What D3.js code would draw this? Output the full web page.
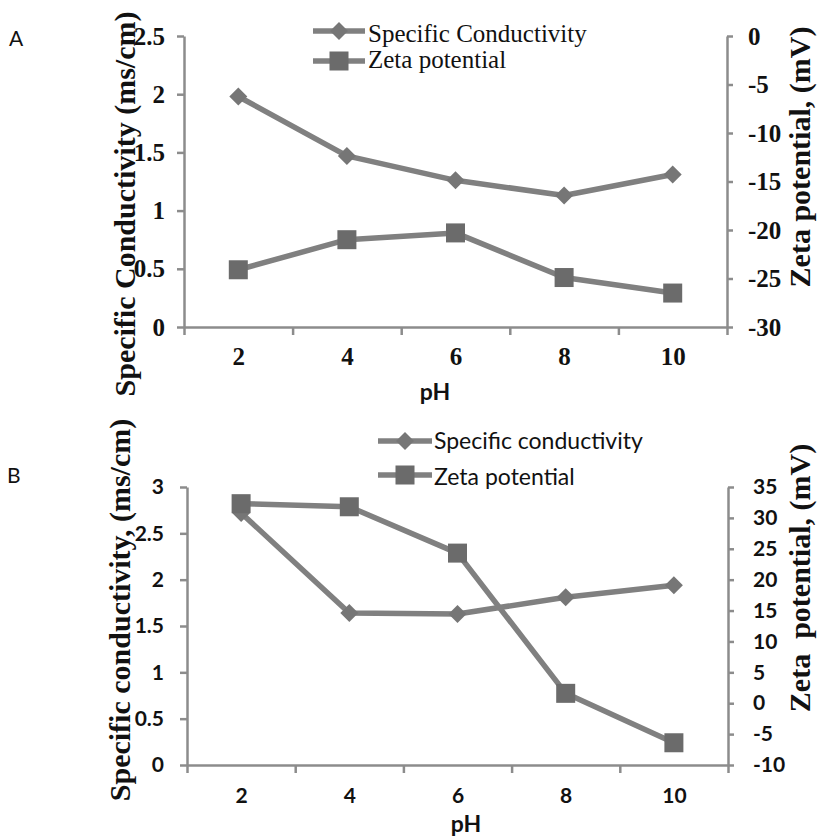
<!DOCTYPE html>
<html>
<head>
<meta charset="utf-8">
<script src="https://cdn.jsdelivr.net/npm/d3@7/dist/d3.min.js"></script>
<style>
  body { margin: 0; background: #fff; }
  svg { display: block; }
</style>
</head>
<body>
<div id="chart"></div>
<script>
// Data
var pH = [2, 4, 6, 8, 10];
var xBounds = [1, 3, 5, 7, 9, 11];

var condA = [1.98, 1.47, 1.26, 1.13, 1.31];
var zetaA = [-24.1, -21.0, -20.3, -24.9, -26.5];
var condTicksA = [0, 0.5, 1, 1.5, 2, 2.5];
var zetaTicksA = [0, -5, -10, -15, -20, -25, -30];

var condB = [2.72, 1.64, 1.63, 1.81, 1.94];
var zetaB = [32.3, 31.8, 24.3, 1.6, -6.4];
var condTicksB = [0, 0.5, 1, 1.5, 2, 2.5, 3];
var zetaTicksB = [-10, -5, 0, 5, 10, 15, 20, 25, 30, 35];

var SERIF = "Liberation Serif";
var SANS = "Lato";

var LINE = "#808080";
var AXIS = "#8c8c8c";
var DIAMOND = "#767676";
var SQUARE = "#6b6b6b";

var svg = d3.select("#chart")
  .append("svg")
  .attr("width", 817)
  .attr("height", 836);

var drawDiamond = function(g, x, y) {
  var s = 9;
  g.append("path")
    .attr("d", `M${x},${y - s}L${x + s},${y}L${x},${y + s}L${x - s},${y}Z`)
    .attr("fill", DIAMOND);
};

var drawSquare = function(g, x, y) {
  var s = 19;
  g.append("rect")
    .attr("x", x - s / 2)
    .attr("y", y - s / 2)
    .attr("width", s)
    .attr("height", s)
    .attr("fill", SQUARE);
};

var renderPanel = function(config) {
  var g = svg.append("g");

  var xScale = d3.scaleLinear().domain([1, 11]).range([config.left, config.right]);
  var yLeft = d3.scaleLinear().domain(config.leftDomain).range([config.bottom, config.top]);
  var yRight = d3.scaleLinear().domain(config.rightDomain).range([config.bottom, config.top]);

  var tickFont = config.tickFont;

  // x axis: ticks on category boundaries, labels on categories
  var xAxis = g.append("g")
    .attr("transform", `translate(0,${config.bottom})`)
    .call(d3.axisBottom(xScale).tickValues(xBounds).tickSize(8).tickSizeOuter(0).tickFormat(""));

  var xLabels = g.append("g")
    .attr("transform", `translate(0,${config.bottom})`)
    .call(d3.axisBottom(xScale).tickValues(pH).tickSize(0).tickFormat(d => d));
  xLabels.select(".domain").remove();
  xLabels.selectAll("text")
    .attr("y", config.xLabelY)
    .attr("dy", 0);

  var leftAxis = g.append("g")
    .attr("transform", `translate(${config.left},0)`)
    .call(d3.axisLeft(yLeft).tickValues(config.leftTicks).tickSize(7).tickSizeOuter(0)
      .tickPadding(config.leftPad).tickFormat(d => d));

  var rightAxis = g.append("g")
    .attr("transform", `translate(${config.right},0)`)
    .call(d3.axisRight(yRight).tickValues(config.rightTicks).tickSize(6).tickSizeOuter(0)
      .tickPadding(config.rightPad).tickFormat(d => d < 0 ? "-" + Math.abs(d) : d));

  [xAxis, leftAxis, rightAxis].forEach(function(a) {
    a.selectAll(".domain").attr("stroke", AXIS).attr("stroke-width", 2.5);
    a.selectAll(".tick line").attr("stroke", AXIS).attr("stroke-width", 2.5);
  });
  [xLabels, leftAxis, rightAxis].forEach(function(a) {
    a.attr("font-family", tickFont.family).attr("font-size", tickFont.size);
    a.selectAll("text")
      .attr("font-family", tickFont.family)
      .attr("font-size", tickFont.size)
      .attr("font-weight", "bold")
      .attr("fill", "#111");
  });

  // series
  var line = function(scale, vals) {
    return d3.line()
      .x((d, i) => xScale(pH[i]))
      .y(d => scale(d))(vals);
  };

  g.append("path")
    .attr("d", line(yLeft, config.cond))
    .attr("fill", "none")
    .attr("stroke", LINE)
    .attr("stroke-width", 5.5)
    .attr("stroke-linejoin", "round");
  config.cond.forEach(function(v, i) {
    drawDiamond(g, xScale(pH[i]), yLeft(v));
  });

  g.append("path")
    .attr("d", line(yRight, config.zeta))
    .attr("fill", "none")
    .attr("stroke", LINE)
    .attr("stroke-width", 5.5)
    .attr("stroke-linejoin", "round");
  config.zeta.forEach(function(v, i) {
    drawSquare(g, xScale(pH[i]), yRight(v));
  });

  // axis titles
  config.titles.forEach(function(t) {
    g.append("text")
      .attr("transform", `translate(${t.x},${t.y}) rotate(-90)`)
      .attr("text-anchor", "middle")
      .attr("font-family", SERIF)
      .attr("font-size", 30)
      .attr("font-weight", "bold")
      .attr("fill", "#111")
      .attr("xml:space", "preserve")
      .text(t.text);
  });

  g.append("text")
    .attr("x", config.pHx)
    .attr("y", config.pHy)
    .attr("text-anchor", "middle")
    .attr("font-family", SANS)
    .attr("font-size", config.pHsize)
    .attr("font-weight", "bold")
    .attr("fill", "#111")
    .text("pH");

  g.append("text")
    .attr("x", config.letter.x)
    .attr("y", config.letter.y)
    .attr("font-family", SANS)
    .attr("font-size", 21)
    .attr("fill", "#111")
    .text(config.letter.text);

  // legend
  var lg = config.legend;
  lg.items.forEach(function(item, i) {
    var ly = lg.lineY[i];
    g.append("line")
      .attr("x1", lg.x1).attr("x2", lg.x2)
      .attr("y1", ly).attr("y2", ly)
      .attr("stroke", LINE)
      .attr("stroke-width", 5.5);
    if (i == 0) drawDiamond(g, (lg.x1 + lg.x2) / 2, ly);
    else drawSquare(g, (lg.x1 + lg.x2) / 2, ly);
    g.append("text")
      .attr("x", lg.textX)
      .attr("y", lg.textY[i])
      .attr("font-family", lg.family)
      .attr("font-size", lg.size)
      .attr("fill", "#111")
      .text(item);
  });
};

renderPanel({
  left: 184, right: 727, top: 36, bottom: 327,
  leftDomain: [0, 2.5], rightDomain: [-30, 0],
  leftTicks: condTicksA, rightTicks: zetaTicksA,
  leftPad: 12, rightPad: 15,
  xLabelY: 38,
  tickFont: { family: SERIF, size: 25 },
  cond: condA, zeta: zetaA,
  titles: [
    { x: 135, y: 204, text: "Specific Conductivity (ms/cm)" },
    { x: 810, y: 157, text: "Zeta potential, (mV)" }
  ],
  pHx: 435, pHy: 400, pHsize: 23,
  letter: { x: 9, y: 46, text: "A" },
  legend: {
    x1: 313, x2: 365, textX: 368, family: SERIF, size: 25,
    lineY: [31, 61], textY: [42, 68],
    items: ["Specific Conductivity", "Zeta potential"]
  }
});

renderPanel({
  left: 187, right: 728, top: 487, bottom: 765,
  leftDomain: [0, 3], rightDomain: [-10, 35],
  leftTicks: condTicksB, rightTicks: zetaTicksB,
  leftPad: 16, rightPad: 19,
  xLabelY: 38,
  tickFont: { family: SANS, size: 21 },
  cond: condB, zeta: zetaB,
  titles: [
    { x: 130, y: 610, text: "Specific conductivity, (ms/cm)" },
    { x: 810, y: 578, text: "Zeta  potential, (mV)" }
  ],
  pHx: 466, pHy: 832, pHsize: 23,
  letter: { x: 7, y: 483, text: "B" },
  legend: {
    x1: 378, x2: 432, textX: 434, family: SANS, size: 23,
    lineY: [441, 475], textY: [449, 485],
    items: ["Specific conductivity", "Zeta potential"]
  }
});
</script>
</body>
</html>
